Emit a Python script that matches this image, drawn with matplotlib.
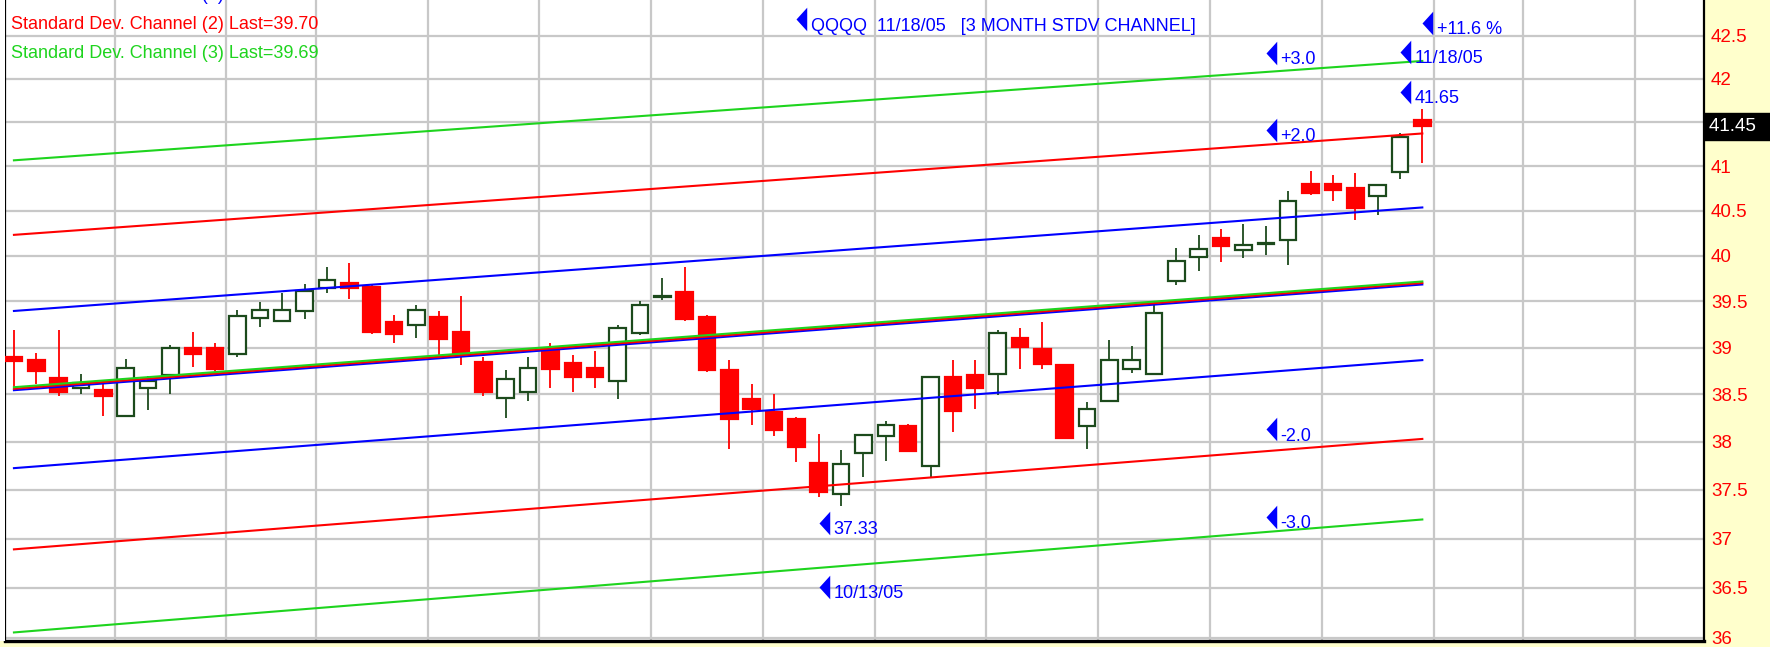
import numpy as np
import pandas as pd
import matplotlib
matplotlib.use('Agg')
import matplotlib.pyplot as plt
from matplotlib import transforms

# daily OHLC for QQQQ, 8/22/05 .. 11/18/05
opens = [38.90, 38.87, 38.67, 38.57, 38.55, 38.27, 38.57, 38.71, 39.00, 39.00,
         38.93, 39.32, 39.29, 39.40, 39.65, 39.70, 39.66, 39.28, 39.24, 39.33,
         39.17, 38.85, 38.46, 38.53, 38.98, 38.83, 38.78, 38.64, 39.16, 39.55,
         39.60, 39.33, 38.76, 38.45, 38.31, 38.24, 37.78, 37.46, 37.88, 38.06,
         38.17, 37.75, 38.68, 38.71, 38.72, 39.10, 38.98, 38.81, 38.17, 38.43,
         38.77, 38.72, 39.72, 39.98, 40.20, 40.06, 40.13, 40.17, 40.80, 40.80,
         40.75, 40.66, 40.93, 41.52]
highs = [39.19, 38.94, 39.19, 38.72, 38.62, 38.88, 38.70, 39.03, 39.17, 39.05,
         39.41, 39.49, 39.59, 39.69, 39.88, 39.92, 39.69, 39.35, 39.46, 39.40,
         39.56, 38.90, 38.76, 38.90, 39.05, 38.92, 38.96, 39.24, 39.50, 39.76,
         39.88, 39.35, 38.87, 38.61, 38.50, 38.26, 38.08, 37.91, 38.07, 38.22,
         38.19, 38.69, 38.87, 38.87, 39.19, 39.21, 39.28, 38.82, 38.42, 39.08,
         39.02, 39.48, 40.08, 40.23, 40.30, 40.35, 40.33, 40.72, 40.94, 40.90,
         40.92, 40.79, 41.37, 41.65]
lows = [38.57, 38.61, 38.48, 38.50, 38.27, 38.26, 38.33, 38.50, 38.79, 38.75,
        38.90, 39.22, 39.27, 39.31, 39.59, 39.53, 39.15, 39.05, 39.10, 38.92,
        38.81, 38.48, 38.25, 38.43, 38.57, 38.52, 38.57, 38.45, 39.13, 39.51,
        39.29, 38.74, 37.92, 38.18, 38.06, 37.79, 37.43, 37.33, 37.63, 37.80,
        37.90, 37.63, 38.10, 38.34, 38.49, 38.77, 38.77, 38.03, 37.92, 38.43,
        38.73, 38.71, 39.68, 39.83, 39.93, 39.97, 40.01, 39.90, 40.67, 40.61,
        40.39, 40.45, 40.85, 41.04]
closes = [38.86, 38.75, 38.52, 38.62, 38.48, 38.78, 38.64, 39.00, 38.93, 38.77,
          39.34, 39.41, 39.41, 39.61, 39.73, 39.65, 39.17, 39.15, 39.41, 39.09,
          38.94, 38.52, 38.66, 38.78, 38.77, 38.68, 38.68, 39.21, 39.46, 39.56,
          39.31, 38.76, 38.24, 38.34, 38.12, 37.95, 37.48, 37.77, 38.07, 38.18,
          37.90, 38.68, 38.32, 38.57, 39.16, 39.01, 38.82, 38.04, 38.35, 38.87,
          38.87, 39.37, 39.94, 40.07, 40.11, 40.12, 40.14, 40.61, 40.70, 40.73,
          40.53, 40.79, 41.33, 41.45]

# regression channel: centre line at first / last bar, one standard deviation
chan_start, chan_end = 38.56, 39.70
sigma = 0.835

price_ticks = [36, 36.5, 37, 37.5, 38, 38.5, 39, 39.5, 40, 40.5, 41, 41.5, 42, 42.5]
# 41.5 sits under the last-price box
price_labels = ['36', '36.5', '37', '37.5', '38', '38.5', '39', '39.5', '40',
                '40.5', '41', '', '42', '42.5']
last_price = 41.45

# (bar index, price, text) of the blue flags
flag_x = [35.0, 63.0, 56.0, 62.0, 62.0, 56.0, 56.0, 56.0, 36.0, 36.0]
flag_y = [42.69, 42.65, 42.30, 42.31, 41.85, 41.41, 38.13, 37.22, 37.16, 36.51]
flag_text = ['QQQQ  11/18/05   [3 MONTH STDV CHANNEL]', '+11.6 %', '+3.0',
             '11/18/05', '41.65', '+2.0', '-2.0', '-3.0', '37.33', '10/13/05']

legend_text = ['Standard Dev. Channel (1) Last=39.70',
               'Standard Dev. Channel (2) Last=39.70',
               'Standard Dev. Channel (3) Last=39.69']

# trading days incl. the empty space to the right of the last bar
holidays = pd.to_datetime(['2005-09-05', '2005-11-24'])
days = pd.bdate_range('2005-08-22', '2005-12-09')
days = days[~days.isin(holidays)]
idx = np.arange(len(days))
week = days.isocalendar().week.values
week_breaks = idx[1:][np.diff(week) != 0] - 0.5

plt.rcParams['font.family'] = ['Liberation Sans Narrow', 'Liberation Sans', 'DejaVu Sans']

RED = '#FF0000'
BLUE = '#0000FF'
GREEN = '#1ED41E'
DKGREEN = '#1C4A1C'
YELLOW = '#FFFFCC'

W, H = 1770, 647
fig = plt.figure(figsize=(W / 100, H / 100), dpi=100, facecolor=YELLOW)
fig.patches.append(plt.Rectangle((0, 6 / H), 5 / W, 1, transform=fig.transFigure,
                                 facecolor='white', edgecolor='none'))
ax = fig.add_axes([5 / W, 6 / H, 1699 / W, 641 / H])
ax.set_facecolor('white')
ax.set_yscale('log')
ax.set_xlim(-0.4, 75.6)
ax.set_ylim(35.97, 42.92)

# grid
ax.set_axisbelow(True)
ax.set_yticks(price_ticks)
ax.set_yticklabels(price_labels)
ax.yaxis.set_minor_locator(matplotlib.ticker.NullLocator())
ax.yaxis.set_minor_formatter(matplotlib.ticker.NullFormatter())
ax.set_xticks(week_breaks)
ax.set_xticklabels([])
ax.grid(True, color='#C8C8C8', lw=1.6)
ax.yaxis.tick_right()
ax.tick_params(axis='y', length=0, pad=5, labelcolor=RED, labelsize=13.5)
ax.tick_params(axis='x', length=0)
ax.spines['top'].set_visible(False)
ax.spines['left'].set_linewidth(1.6)
ax.spines['right'].set_linewidth(1.6)
ax.spines['bottom'].set_linewidth(2.4)

# candles
n = len(closes)
o = np.array(opens)
c = np.array(closes)
hi = np.array(highs)
lo = np.array(lows)
up = c >= o
x = idx[:n]
ax.vlines(x[up], lo[up], hi[up], color=DKGREEN, lw=1.3, zorder=3)
ax.vlines(x[~up], lo[~up], hi[~up], color=RED, lw=1.3, zorder=3)
body_lo = np.minimum(o, c)
body_h = np.abs(c - o)
ax.bar(x[up], body_h[up], bottom=body_lo[up], width=0.74, facecolor='white',
       edgecolor=DKGREEN, lw=1.6, zorder=4)
ax.bar(x[~up], body_h[~up], bottom=body_lo[~up], width=0.74, facecolor=RED,
       edgecolor=RED, lw=1.6, zorder=4)

# standard deviation channel
cx = [0, n - 1]
for k, col in [(1, BLUE), (2, RED), (3, GREEN)]:
    ax.plot(cx, [chan_start + k * sigma, chan_end + k * sigma], color=col, lw=1.5, zorder=5)
    ax.plot(cx, [chan_start - k * sigma, chan_end - k * sigma], color=col, lw=1.5, zorder=5)
for dy, col in [(-1.5, BLUE), (0, RED), (1.5, GREEN)]:
    tr = transforms.offset_copy(ax.transData, fig=fig, y=dy, units='dots')
    ax.plot(cx, [chan_start, chan_end], color=col, lw=1.5, zorder=5, transform=tr)

# blue flags
tri = [(0, 0), (1.0, 1.1), (1.0, -1.1), (0, 0)]
for fx, fy, ft in zip(flag_x, flag_y, flag_text):
    ax.plot([fx], [fy], ls='none', marker=tri, ms=17, color=BLUE, mew=0, zorder=6,
            clip_on=False)
    ax.annotate(ft, (fx, fy), xytext=(10.5, -8), textcoords='offset points', color=BLUE,
                fontsize=13, va='baseline', ha='left', zorder=6)

# last price box on the axis
bt = transforms.blended_transform_factory(ax.transAxes, ax.transData)
ax.text(1.0 + 5 / 1699, last_price, '41.45     ', transform=bt, color='white', fontsize=13.5,
        va='center', ha='left', clip_on=False, zorder=10,
        bbox=dict(facecolor='black', edgecolor='black', boxstyle='square,pad=0.25'))

# legend lines at top left (first one runs off the top edge)
for i, (txt, col) in enumerate(zip(legend_text, [BLUE, RED, GREEN])):
    fig.text(11 / W, 1 - (-0.5 + 29.5 * i) / H, txt, color=col, fontsize=13, va='baseline')

fig.savefig('out.png', dpi=100, facecolor=fig.get_facecolor())
